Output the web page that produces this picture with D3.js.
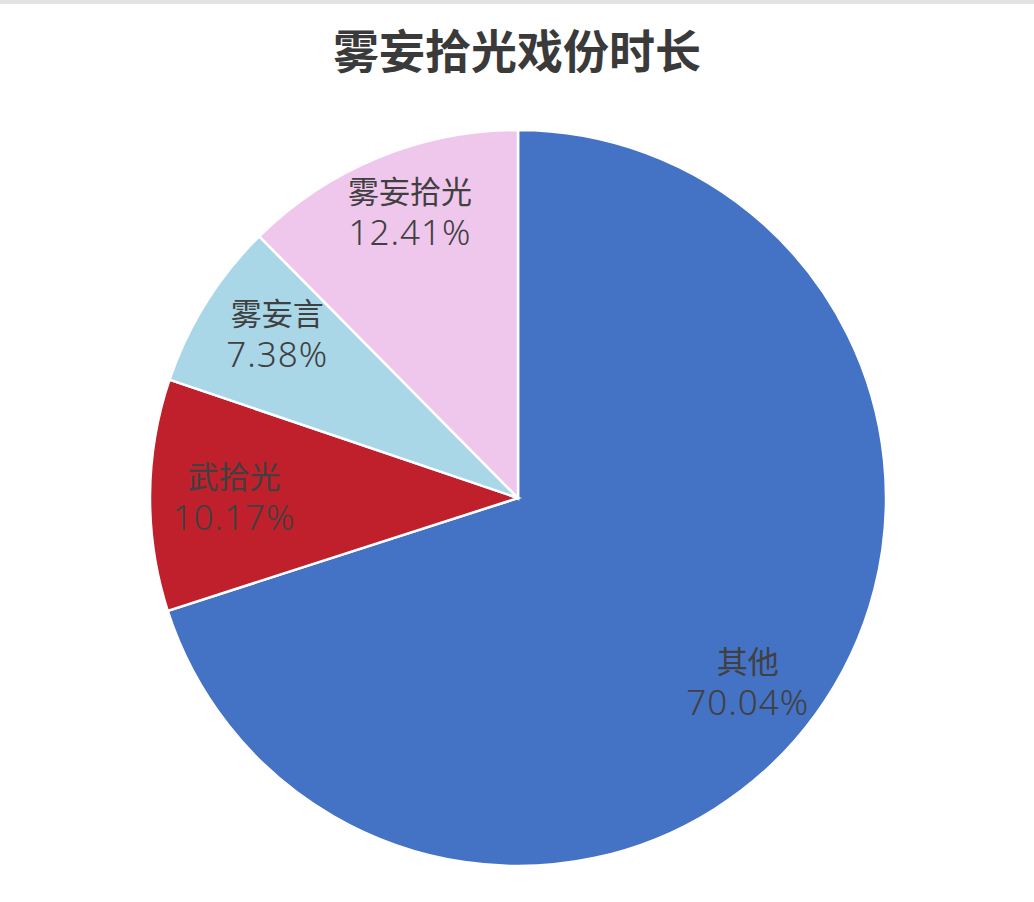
<!DOCTYPE html>
<html>
<head>
<meta charset="utf-8">
<script src="https://cdn.jsdelivr.net/npm/d3@7"></script>
<style>
  body { margin: 0; background: #fff; }
  svg { display: block; }
</style>
</head>
<body>
<svg width="1034" height="902"></svg>
<script>
var names = ['其他', '武拾光', '雾妄言', '雾妄拾光'];
var shares = [70.04, 10.17, 7.38, 12.41];
var colours = ['#4472C4', '#C01F2C', '#A9D7E8', '#EFC7EC'];

var svg = d3.select('svg');

// thin grey strip along the top edge
svg.append('rect')
    .attr('x', 0).attr('y', 0)
    .attr('width', 1034).attr('height', 4)
    .style('fill', '#e2e2e2');

svg.append('text')
    .attr('x', 517)
    .attr('y', 68)
    .attr('text-anchor', 'middle')
    .style('font-family', '"Noto Sans CJK SC", sans-serif')
    .style('font-weight', 'bold')
    .style('font-size', '46px')
    .style('fill', '#3a3a3a')
    .text('雾妄拾光戏份时长');

var radius = 368;
var data = names.map(function(n, i) { return { name: n, value: shares[i] }; });

var colour = d3.scaleOrdinal().domain(names).range(colours);

var pie = d3.pie()
    .sort(null)
    .value(function(d) { return d.value; });

var arc = d3.arc().innerRadius(0).outerRadius(radius);
var labelArc = d3.arc().innerRadius(radius * 0.8).outerRadius(radius * 0.8);

var g = svg.append('g')
    .attr('transform', 'translate(518,498)');

g.selectAll('path')
    .data(pie(data))
    .enter()
    .append('path')
    .attr('d', arc)
    .style('fill', function(d) { return colour(d.data.name); })
    .style('stroke', '#fff')
    .style('stroke-width', 2.5);

// labels sit a little wider vertically than the plain centroid
var labels = g.selectAll('text.lbl')
    .data(pie(data))
    .enter()
    .append('text')
    .attr('class', 'lbl')
    .attr('transform', function(d) {
        var c = labelArc.centroid(d);
        return 'translate(' + (c[0] * 0.965) + ',' + (c[1] * 1.055) + ')';
    })
    .attr('text-anchor', 'middle')
    .style('font-family', '"Noto Sans CJK SC", sans-serif')
    .style('fill', '#404040');

labels.append('tspan')
    .attr('x', 0)
    .attr('y', -8)
    .style('font-size', '31px')
    .text(function(d) { return d.data.name; });

labels.append('tspan')
    .attr('x', 0)
    .attr('y', 34)
    .style('font-size', '35px')
    .style('font-family', '"Noto Sans", sans-serif')
    .style('font-weight', 300)
    .style('letter-spacing', '1px')
    .text(function(d) { return d.data.value.toFixed(2) + '%'; });
</script>
</body>
</html>
